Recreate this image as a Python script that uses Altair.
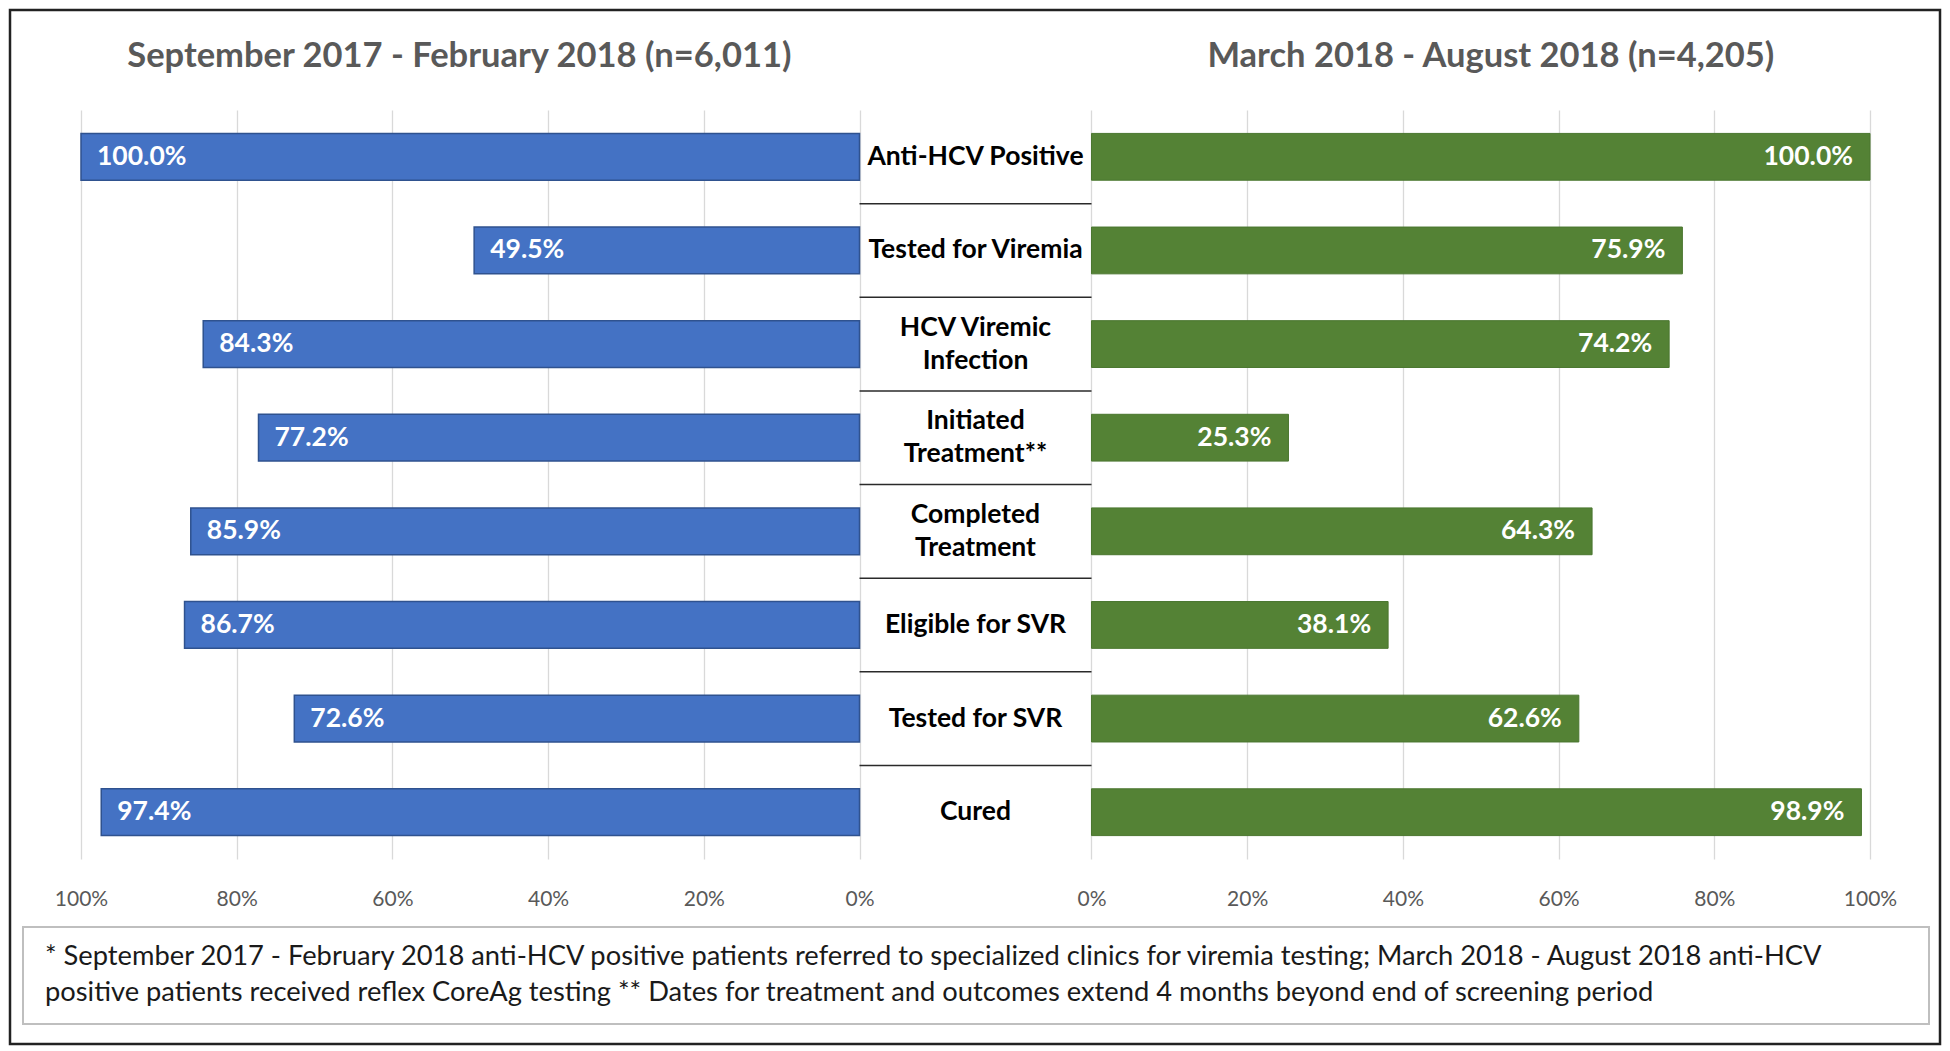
import altair as alt
import pandas as pd

categories = ["Anti-HCV Positive", "Tested for Viremia", "HCV Viremic Infection",
              "Initiated Treatment**", "Completed Treatment", "Eligible for SVR",
              "Tested for SVR", "Cured"]
display_labels = ["Anti-HCV Positive", "Tested for Viremia", "HCV Viremic\nInfection",
                  "Initiated\nTreatment**", "Completed\nTreatment", "Eligible for SVR",
                  "Tested for SVR", "Cured"]
left_values = [100.0, 49.5, 84.3, 77.2, 85.9, 86.7, 72.6, 97.4]
right_values = [100.0, 75.9, 74.2, 25.3, 64.3, 38.1, 62.6, 98.9]
left_title = "September 2017 - February 2018 (n=6,011)"
right_title = "March 2018 - August 2018 (n=4,205)"
footnote = ("* September 2017 - February 2018 anti-HCV positive patients referred to specialized clinics for viremia testing; March 2018 - August 2018 anti-HCV\n"
            "positive patients received reflex CoreAg testing ** Dates for treatment and outcomes extend 4 months beyond end of screening period")
tick_pcts = [0, 20, 40, 60, 80, 100]

GAP = 29.8  # width of the centre label column, in percent units
W, H = 1789, 749
STEP = H / 8.0

df = pd.DataFrame({"category": categories, "label": display_labels,
                   "left": left_values, "right": right_values})
is_double = df["label"].str.contains("\n")

FONT = "Lato"
tick_values = [-p for p in tick_pcts] + [GAP + p for p in tick_pcts]
label_expr = (f"datum.value <= 0.001 ? round(abs(datum.value)) + '%' : "
              f"round(datum.value - {GAP}) + '%'")
xaxis = alt.Axis(values=tick_values, labelExpr=label_expr, grid=True, gridColor="#d9d9d9",
                 gridWidth=1.3, ticks=False, domain=False, labelFlush=False,
                 labelPadding=29, labelFontSize=21, labelColor="#595959", labelFont=FONT,
                 title=None)
xscale = alt.Scale(domain=[-100, GAP + 100], nice=False, zero=False)
yenc = alt.Y("category:N", sort=categories, axis=None,
             scale=alt.Scale(paddingInner=0.5, paddingOuter=0.25))

base = alt.Chart(df)

left_bars = base.transform_calculate(x="-datum.left", x2="0").mark_bar(
    color="#4472c4", stroke="#2f528f", strokeWidth=1.5
).encode(x=alt.X("x:Q", scale=xscale, axis=xaxis), x2="x2:Q", y=yenc)

right_bars = base.transform_calculate(x=f"{GAP}", x2=f"datum.right + {GAP}").mark_bar(
    color="#548235", stroke="#4a762f", strokeWidth=1
).encode(x=alt.X("x:Q", scale=xscale, axis=xaxis), x2="x2:Q", y=yenc)

left_text = base.transform_calculate(
    x="-datum.left", t="format(datum.left, '.1f') + '%'"
).mark_text(align="left", baseline="middle", dx=16, color="white", fontWeight="bold",
            fontSize=26.5, font=FONT
).encode(x=alt.X("x:Q", scale=xscale, axis=xaxis), y=yenc, text="t:N")

right_text = base.transform_calculate(
    x=f"datum.right + {GAP}", t="format(datum.right, '.1f') + '%'"
).mark_text(align="right", baseline="middle", dx=-17, color="white", fontWeight="bold",
            fontSize=26.5, font=FONT
).encode(x=alt.X("x:Q", scale=xscale, axis=xaxis), y=yenc, text="t:N")

LH = 33
center_single = alt.Chart(df[~is_double]).transform_calculate(
    x=f"{GAP / 2}").mark_text(
    align="center", baseline="middle", fontWeight="bold", fontSize=26.5, font=FONT,
    color="black"
).encode(x=alt.X("x:Q", scale=xscale, axis=xaxis), y=yenc, text="label:N")

center_double = alt.Chart(df[is_double]).transform_calculate(
    x=f"{GAP / 2}").mark_text(
    align="center", baseline="middle", fontWeight="bold", fontSize=26.5, font=FONT,
    color="black", lineBreak="\n", lineHeight=LH, dy=-LH / 2
).encode(x=alt.X("x:Q", scale=xscale, axis=xaxis), y=yenc, text="label:N")

sep = alt.Chart(df.iloc[:-1]).transform_calculate(x="0", x2=f"{GAP}").mark_rule(
    color="#2a2a2a", strokeWidth=1.5, yOffset=STEP / 2
).encode(x=alt.X("x:Q", scale=xscale, axis=xaxis), x2="x2:Q", y=yenc)

titles_df = pd.DataFrame({"t": [left_title, right_title], "x": [-51.4, GAP + 51.3]})
titles = alt.Chart(titles_df).mark_text(
    align="center", baseline="middle", fontWeight="bold", fontSize=34.5, font=FONT,
    color="#595959"
).encode(x=alt.X("x:Q", scale=xscale, axis=xaxis), y=alt.value(-53), text="t:N")

one = pd.DataFrame({"t": [footnote]})
foot_box = alt.Chart(one).mark_rect(fillOpacity=0, stroke="#bfbfbf", strokeWidth=2).encode(
    x=alt.value(-58), x2=alt.value(1848), y=alt.value(817), y2=alt.value(914))
foot_text = alt.Chart(one).mark_text(
    align="left", baseline="middle", fontSize=27.3, font=FONT, color="#1a1a1a",
    lineBreak="\n", lineHeight=36
).encode(x=alt.value(-36), y=alt.value(847), text="t:N")
border = alt.Chart(one).mark_rect(fillOpacity=0, stroke="#222222", strokeWidth=2.5).encode(
    x=alt.value(-71), x2=alt.value(1859), y=alt.value(-100), y2=alt.value(934))

chart = alt.layer(
    border, left_bars, right_bars, sep, left_text, right_text, center_single, center_double,
    titles, foot_box, foot_text
).properties(width=W, height=H, padding=0, background="white").configure_view(stroke=None)

chart.save("out.html", embed_options={"renderer": "svg", "actions": False})
